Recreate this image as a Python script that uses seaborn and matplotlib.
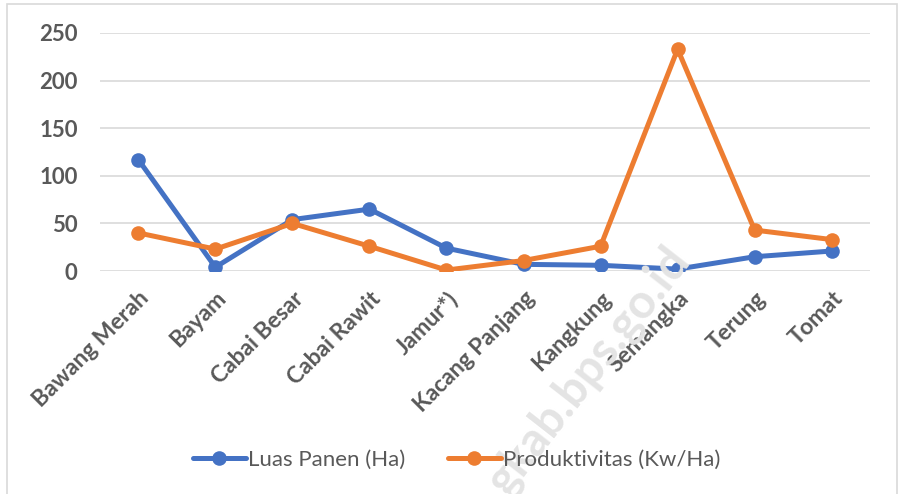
import pandas as pd
import matplotlib.pyplot as plt
import matplotlib.patches as patches
from matplotlib.lines import Line2D
import seaborn as sns

categories = ["Bawang Merah", "Bayam", "Cabai Besar", "Cabai Rawit", "Jamur*)",
              "Kacang Panjang", "Kangkung", "Semangka", "Terung", "Tomat"]
luas_panen = [117, 4, 54, 65, 24, 7, 6, 2, 15, 21]
produktivitas = [40, 23, 50, 26, 1, 11, 26, 233, 43, 33]
series_names = ["Luas Panen (Ha)", "Produktivitas (Kw/Ha)"]
colors = ["#4472C4", "#ED7D31"]
yticks = [0, 50, 100, 150, 200, 250]

sns.set_style("white")
plt.rcParams['font.family'] = ['Lato', 'DejaVu Sans']

df = pd.DataFrame({
    "kategori": categories * 2,
    "nilai": luas_panen + produktivitas,
    "seri": [series_names[0]] * len(categories) + [series_names[1]] * len(categories),
})
df["pos"] = list(range(len(categories))) * 2

fig = plt.figure(figsize=(8.99, 4.94), dpi=100)
ax = fig.add_axes([0.111, 0.4514, 0.857, 0.4818])

# watermark behind the chart
fig.text(0.655, 0.25, "gkab.bps.go.id", rotation=52, fontsize=34, fontweight="bold",
         color="#e4e4e4", ha="center", va="center", zorder=0)

sns.lineplot(data=df, x="pos", y="nilai", hue="seri", palette=colors,
             marker="o", markersize=10.5, markeredgewidth=0, linewidth=3.6,
             ax=ax, legend=False, zorder=3)

ax.set_xlim(-0.5, len(categories) - 0.5)
ax.set_ylim(0, 250)
ax.set_yticks(yticks)
ax.set_xticks(range(len(categories)))
ax.set_xticklabels(categories, rotation=45, ha="right", rotation_mode="anchor",
                   fontsize=16.5, fontweight="bold", color="#595959")
ax.set_yticklabels([str(v) for v in yticks], fontsize=16, fontweight="bold", color="#595959")
ax.tick_params(axis="x", length=0, pad=12)
ax.tick_params(axis="y", length=0, pad=16)
ax.yaxis.grid(True, color="#d9d9d9", linewidth=1.2)
ax.set_axisbelow(True)
ax.patch.set_alpha(0)
for s in ax.spines.values():
    s.set_visible(False)
ax.set_xlabel("")
ax.set_ylabel("")

handles = [Line2D([0], [0], color=c, linewidth=3.6, marker="o", markersize=10.5,
                  markeredgewidth=0) for c in colors]
fig.legend(handles, series_names, loc="center", bbox_to_anchor=(0.508, 0.07), ncol=2,
           frameon=False, fontsize=16, handlelength=2.4, columnspacing=1.9,
           handletextpad=0.1, labelcolor="#595959")

fig.patches.append(patches.Rectangle((0.008, -0.01), 0.99, 1.002, transform=fig.transFigure,
                                     fill=False, edgecolor="#d9d9d9", linewidth=1.2))

plt.savefig("out.png", dpi=100)
